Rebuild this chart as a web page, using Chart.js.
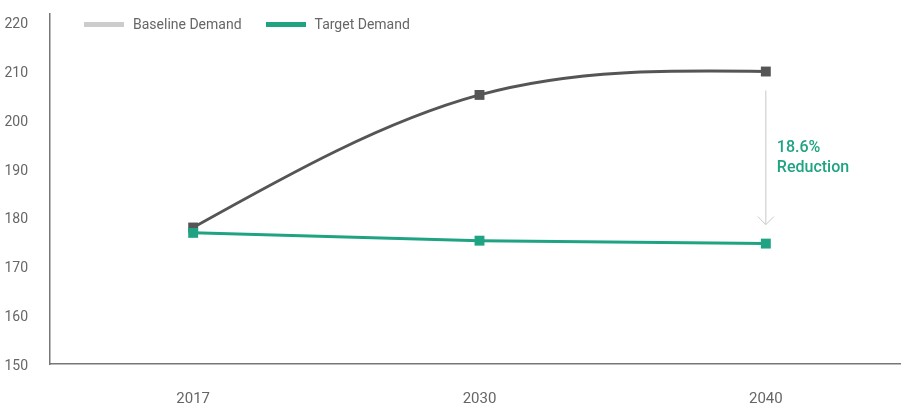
<!DOCTYPE html>
<html>
<head>
<meta charset="utf-8">
<script src="https://cdn.jsdelivr.net/npm/chart.js@4.4.1/dist/chart.umd.min.js"></script>
<style>
  html, body { margin: 0; padding: 0; background: #fff; overflow: hidden; }
  #wrap { position: relative; width: 916px; height: 405px; }
  #chart { display: block; width: 916px; height: 405px; }
  #legend { position: absolute; left: 84px; top: 16px; font: 14px Roboto, sans-serif; color: #666; display: flex; gap: 24px; }
  #legend span.sw { display: inline-block; width: 40px; height: 5px; margin-right: 9px; vertical-align: middle; position: relative; top: -1px; }
</style>
</head>
<body>
<div id="wrap">
  <canvas id="chart" width="916" height="405"></canvas>
  <div id="legend">
    <div><span class="sw" style="background:#cccccc"></span>Baseline Demand</div>
    <div><span class="sw" style="background:#1fa383"></span>Target Demand</div>
  </div>
</div>
<script>
const years = ['2017', '2030', '2040'];
const baselineDemand = [178, 205.2, 210];
const targetDemand = [176.9, 175.3, 174.7];
const yTicks = [150, 160, 170, 180, 190, 200, 210, 220];
const reductionText = ['18.6%', 'Reduction'];

const green = '#1fa383';
const dark = '#555555';

// natural cubic spline slopes (pixel space)
function naturalSlopes(xs, ys) {
    const n = xs.length;
    const a = [], b = [], c = [], d = [];
    for (let i = 0; i < n; i++) {
        if (i === 0) {
            const h = xs[1] - xs[0];
            a[i] = 0; b[i] = 2 / h; c[i] = 1 / h; d[i] = 3 * (ys[1] - ys[0]) / (h * h);
        } else if (i === n - 1) {
            const h = xs[i] - xs[i - 1];
            a[i] = 1 / h; b[i] = 2 / h; c[i] = 0; d[i] = 3 * (ys[i] - ys[i - 1]) / (h * h);
        } else {
            const h0 = xs[i] - xs[i - 1], h1 = xs[i + 1] - xs[i];
            a[i] = 1 / h0; b[i] = 2 / h0 + 2 / h1; c[i] = 1 / h1;
            d[i] = 3 * ((ys[i] - ys[i - 1]) / (h0 * h0) + (ys[i + 1] - ys[i]) / (h1 * h1));
        }
    }
    for (let i = 1; i < n; i++) {
        const w = a[i] / b[i - 1];
        b[i] -= w * c[i - 1];
        d[i] -= w * d[i - 1];
    }
    const m = new Array(n);
    m[n - 1] = d[n - 1] / b[n - 1];
    for (let i = n - 2; i >= 0; i--) m[i] = (d[i] - c[i] * m[i + 1]) / b[i];
    return m;
}

const naturalSpline = {
    id: 'naturalSpline',
    beforeDatasetsDraw(chart) {
        chart.data.datasets.forEach((ds, idx) => {
            if (!ds.naturalSpline) return;
            const line = chart.getDatasetMeta(idx).dataset;
            line.updateControlPoints(chart.chartArea, 'x');
            const pts = line.points;
            const m = naturalSlopes(pts.map(p => p.x), pts.map(p => p.y));
            for (let i = 0; i < pts.length; i++) {
                const hPrev = i > 0 ? pts[i].x - pts[i - 1].x : 0;
                const hNext = i < pts.length - 1 ? pts[i + 1].x - pts[i].x : 0;
                pts[i].cp1x = pts[i].x - hPrev / 3;
                pts[i].cp1y = pts[i].y - m[i] * hPrev / 3;
                pts[i].cp2x = pts[i].x + hNext / 3;
                pts[i].cp2y = pts[i].y + m[i] * hNext / 3;
            }
            delete line._path;
        });
    }
};

// arrow + label next to the 2040 points
const reductionArrow = {
    id: 'reductionArrow',
    afterDatasetsDraw(chart) {
        const ctx = chart.ctx;
        const x = chart.scales.x.getPixelForValue(2);
        const y = chart.scales.y;
        const top = y.getPixelForValue(baselineDemand[2]) + 19;
        const bottom = y.getPixelForValue(targetDemand[2]) - 19;
        ctx.save();
        ctx.strokeStyle = '#c8c8c8';
        ctx.lineWidth = 1;
        ctx.beginPath();
        ctx.moveTo(x, top);
        ctx.lineTo(x, bottom);
        ctx.moveTo(x - 8, bottom - 8);
        ctx.lineTo(x, bottom);
        ctx.lineTo(x + 8, bottom - 8);
        ctx.stroke();
        ctx.fillStyle = green;
        ctx.font = '500 16px Roboto, sans-serif';
        ctx.textBaseline = 'middle';
        const mid = (top + bottom) / 2;
        ctx.fillText(reductionText[0], x + 11, mid - 10);
        ctx.fillText(reductionText[1], x + 11, mid + 10);
        ctx.restore();
    }
};

new Chart(document.getElementById('chart'), {
    type: 'line',
    data: {
        labels: years,
        datasets: [{
            label: 'Target Demand',
            data: targetDemand,
            borderColor: green,
            backgroundColor: green,
            borderWidth: 3,
            pointStyle: 'rect',
            pointRadius: 7,
            pointBorderWidth: 0,
            tension: 0
        }, {
            label: 'Baseline Demand',
            data: baselineDemand,
            borderColor: dark,
            backgroundColor: dark,
            borderWidth: 3,
            pointStyle: 'rect',
            pointRadius: 7,
            pointBorderWidth: 0,
            tension: 0.4,
            naturalSpline: true
        }]
    },
    options: {
        responsive: false,
        animation: false,
        layout: { padding: { top: 14, right: 0, left: 0, bottom: 0 } },
        plugins: {
            legend: { display: false },
            tooltip: { enabled: false }
        },
        scales: {
            x: {
                offset: true,
                grid: { display: false },
                border: { display: true, color: '#777', width: 1.5 },
                ticks: { color: '#666', font: { family: 'Roboto', size: 15 }, padding: 18 },
                afterFit(scale) {
                    scale.height = 41;
                    scale.paddingLeft = 0;
                    scale.paddingRight = 0;
                }
            },
            y: {
                min: 150,
                max: 221.8,
                grid: { display: false },
                border: { display: true, color: '#777', width: 1.5 },
                ticks: { color: '#666', font: { family: 'Roboto', size: 14 }, padding: 14, labelOffset: 2 },
                afterBuildTicks(scale) { scale.ticks = yTicks.map(v => ({ value: v })); },
                afterFit(scale) {
                    scale.width = 50;
                    scale.paddingTop = 0;
                    scale.paddingBottom = 0;
                }
            }
        }
    },
    plugins: [naturalSpline, reductionArrow]
});
</script>
</body>
</html>
